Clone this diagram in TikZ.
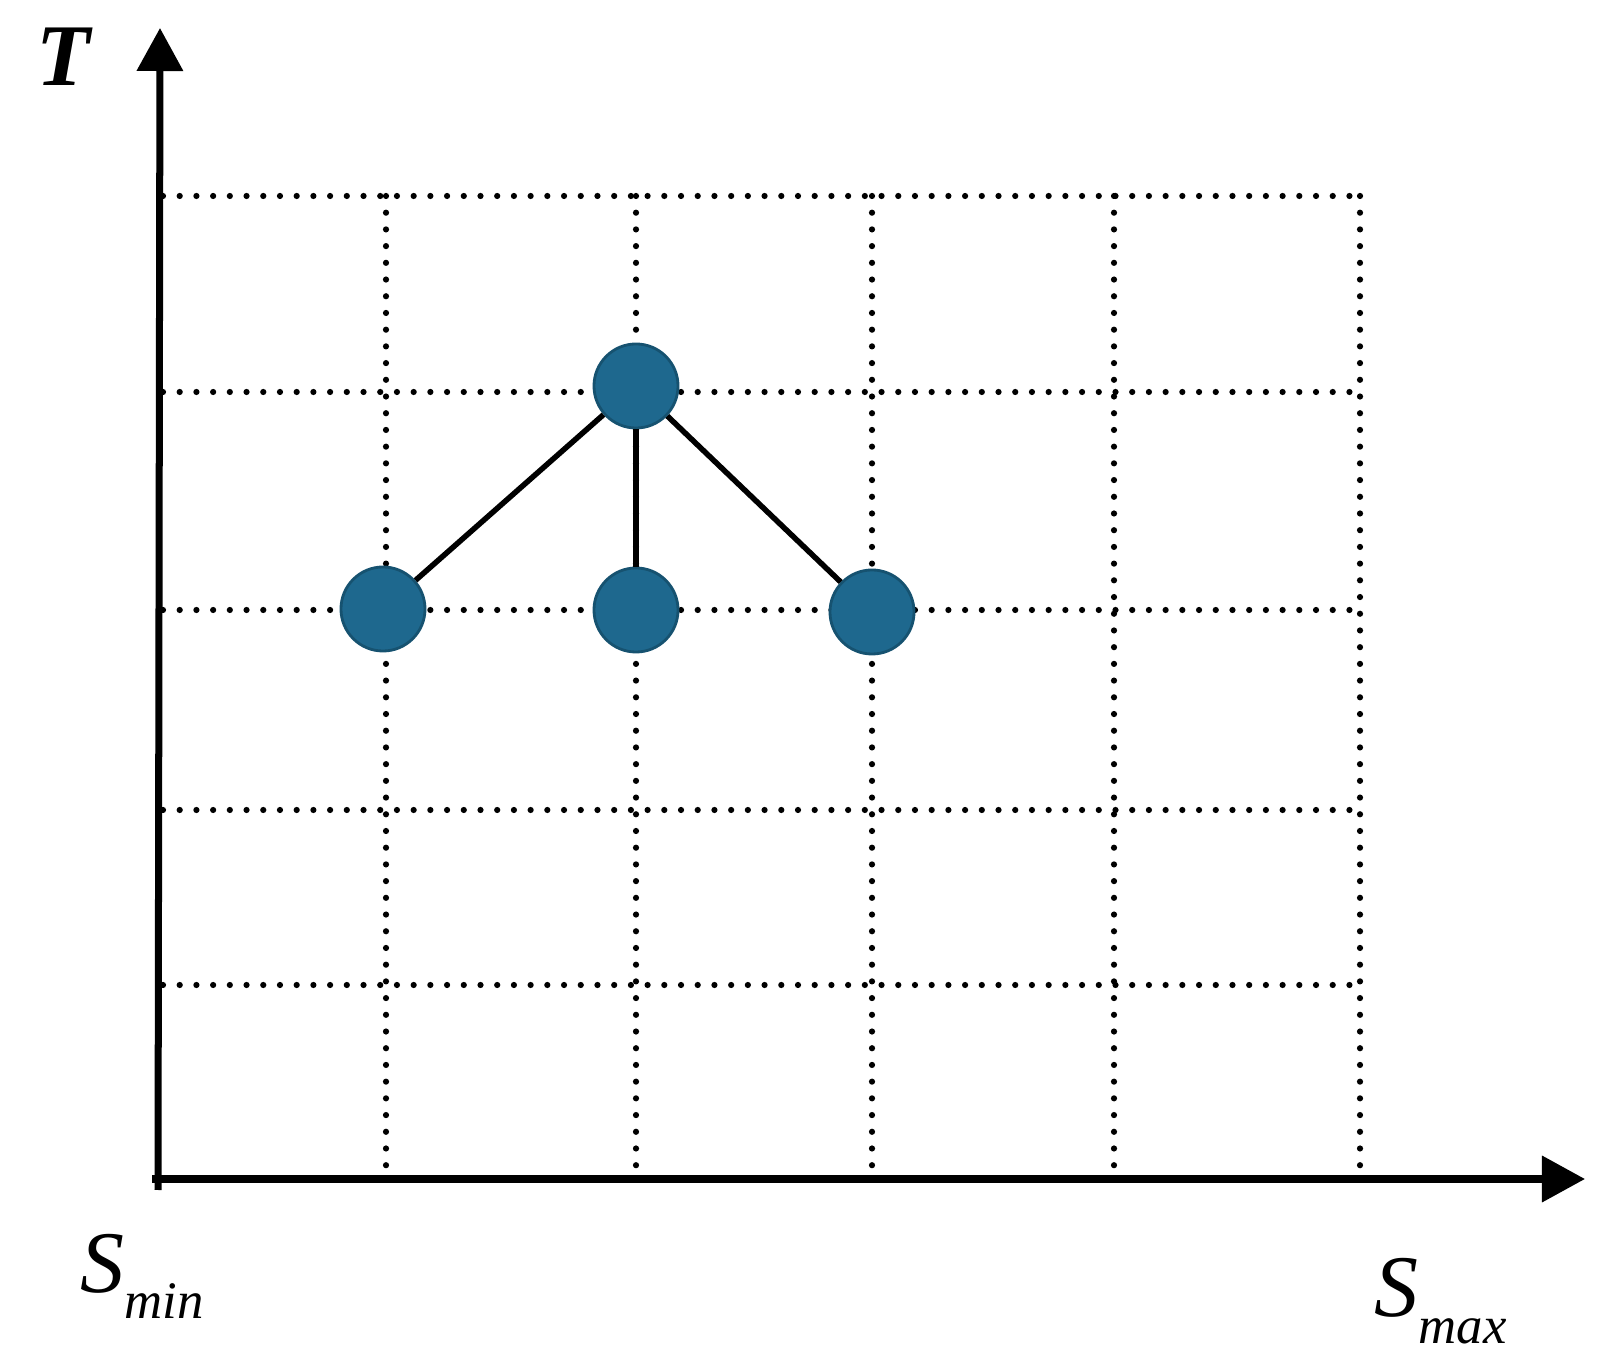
\documentclass[tikz,border=0pt]{standalone}
\usepackage{fontspec}
\setmainfont{Liberation Serif}
\usetikzlibrary{arrows.meta}
\definecolor{nodeblue}{RGB}{30,104,142}
\definecolor{nodeedge}{RGB}{22,82,112}
\tikzset{
  axisline/.style={line width=0.07cm, -{Triangle[length=0.43cm,width=0.45cm]}},
  gridline/.style={line width=0.062cm, line cap=round, dash pattern=on 0pt off 0.167cm},
  dotnode/.style={circle, fill=nodeblue, draw=nodeedge, line width=0.8pt, minimum size=0.84cm, inner sep=0pt},
  linkline/.style={line width=0.055cm, black},
  biglabel/.style={inner sep=0pt, anchor=base west, font=\fontsize{25}{28}\selectfont\itshape},
}
\begin{document}
\begin{tikzpicture}[x=0.01cm, y=-0.01cm]
\useasboundingbox (0,0) rectangle (1600,1371);
% grid
\foreach \yy in {196,392,610,810,985}
  \draw[gridline] (163,\yy) -- (1360,\yy);
\foreach \xx in {386,636,872,1114,1360}
  \draw[gridline] (\xx,196) -- (\xx,1172);
% axes
\coordinate (orig) at (158,1190);
\coordinate (ytip) at (160,28);
\coordinate (xstart) at (152,1179);
\coordinate (xtip) at (1585,1179);
\draw[axisline] (orig) -- (ytip);
\draw[axisline] (xstart) -- (xtip);
% nodes
\node[dotnode] (top) at (636,386) {};
\node[dotnode] (left) at (383,609) {};
\node[dotnode] (mid) at (636,610) {};
\node[dotnode] (right) at (872,612) {};
\draw[linkline] (top) -- (left);
\draw[linkline] (top) -- (mid);
\draw[linkline] (top) -- (right);
% labels
\node[biglabel, font=\fontsize{25}{28}\selectfont\bfseries\itshape] (tlabel) at (36,86) {T};
\node[biglabel] (smin) at (80,1292) {S\raisebox{-0.26cm}{\fontsize{15}{17}\selectfont\itshape min}};
\node[biglabel] (smax) at (1374,1317) {S\raisebox{-0.26cm}{\fontsize{15}{17}\selectfont\itshape max}};
\end{tikzpicture}
\end{document}
